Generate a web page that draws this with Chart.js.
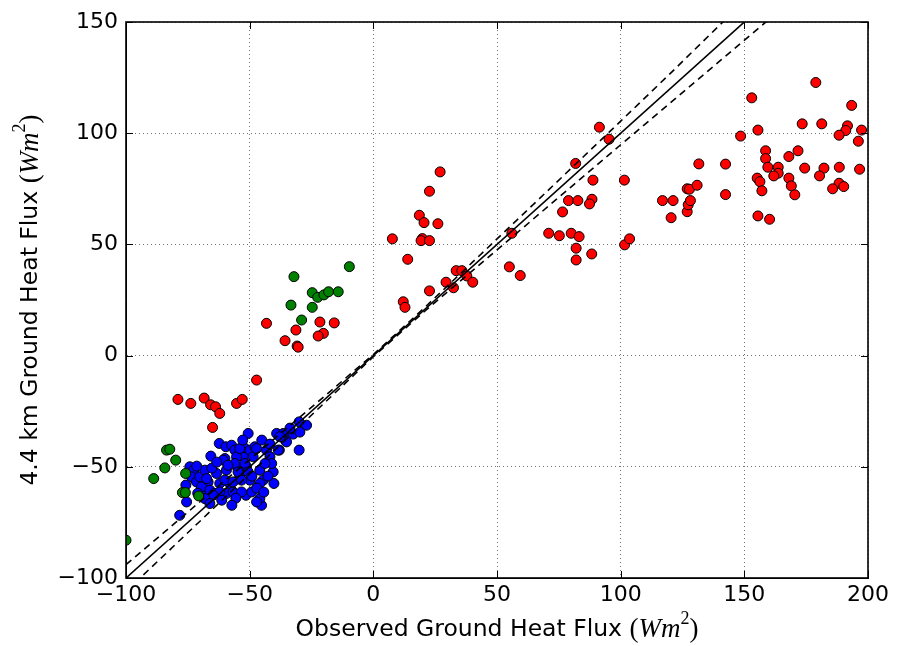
<!DOCTYPE html>
<html>
<head>
<meta charset="utf-8">
<script src="https://cdn.jsdelivr.net/npm/chart.js@4.4.1/dist/chart.umd.min.js"></script>
<style>
  html, body { margin: 0; background: #fff; }
</style>
</head>
<body>
<canvas id="chart" width="905" height="646"></canvas>
<script>
// observed (x) vs 4.4 km (y) ground heat flux
const redX = [-79, -73.8, -68.4, -65.8, -63.8, -62.1, -65, -55.3, -53, -47.2,
  -43.2, -31.3, -21.6, -15.8, -20.2, -22.3, -35.7, -30.8, -30.4,
  27, 22.7, 18.6, 20.5, 26.1, 7.7, 19.8, 19.3, 22.7, 13.9, 12.1, 12.8, 22.7, 29.4, 33.5, 35.8, 37.8, 32.4, 40.2, 56, 55, 59.4,
  91.4, 95.3, 81.8, 88.8, 101.5, 78.9, 82.7, 88.4, 87.4, 76.5, 70.9, 75.2, 80, 83.2, 82, 82, 88.3, 101.6, 103.6,
  116.9, 121.2, 120.4, 126.9, 127.3, 128.2, 126.9, 127.8, 130.9, 131.6,
  178.9, 153, 193.4, 173.4, 181.3, 191.7, 191, 197.4, 188.3, 196.1, 148.5, 155.5, 158.6, 158.6, 171.7, 168,
  159.5, 163.7, 163.7, 161.9, 174.4, 182.2, 180.4, 188.4, 196.6, 155.2, 156.3, 168, 169, 170.4, 157.1,
  188.3, 190.2, 185.7, 142.4, 142.4, 155.5, 160.2];
const redY = [-19.7, -21.5, -19.1, -22.1, -23, -26, -32.3, -21.5, -19.7, -11,
  14.5, 11.5, 15.1, 14.7, 10, 8.8, 6.7, 4.3, 3.8,
  82.6, 73.9, 63.1, 59.8, 59.3, 52.5, 52.6, 51.7, 51.7, 43.3, 24.2, 21.7, 29.1, 33, 38.2, 38.2, 35.8, 30.5, 33, 55, 39.9, 36,
  102.7, 97.3, 86.4, 78.9, 78.9, 69.7, 69.7, 70.3, 68.2, 64.6, 55, 53.9, 55, 53.5, 48.3, 43, 45.7, 49.8, 52.5,
  69.7, 69.7, 62, 64.7, 67.8, 69.7, 75, 74.8, 76.6, 86.2,
  122.8, 115.9, 112.5, 104.2, 104.2, 103.3, 101.2, 101.4, 99.1, 96.4, 98.7, 101.4, 92.1, 88.6, 92.1, 89.5,
  84.7, 84.7, 82, 80.8, 84.3, 84.3, 80.8, 84.7, 83.8, 79.8, 78.2, 79.8, 76.3, 72.3, 74.1,
  77.5, 76, 75, 86.1, 72.4, 62.8, 61.3];

const greenX = [-100, -83.6, -82.3, -79.9, -84.3, -88.8, -75.9, -77.2, -76, -70.6,
  -32.1, -9.7, -24.7, -22.5, -20, -18.1, -14.2, -33.3, -24.7, -29];
const greenY = [-83, -42.5, -42.1, -47, -50.5, -55.3, -53, -61.6, -61.6, -63.1,
  35.5, 40, 28.3, 26.2, 27.3, 28.7, 28.7, 22.7, 21.7, 16];

const blueX = [-78.3, -75.5, -68.8, -74.2, -72.6, -73.5, -71.5, -70.2, -68.1, -66.8,
  -69.5, -66.1, -63.4, -62.1, -64.1, -62.3, -60, -59.4, -59.6, -57.3,
  -56, -58, -59.4, -56.7, -55.1, -54, -52.6, -52.3, -50.6, -49.9,
  -51.3, -49.9, -51.5, -47.9, -45.9, -44.5, -45.2, -45.9, -43.2, -41.8,
  -40.5, -40.2, -41.1, -39.1, -36.4, -38, -35.5, -32.4, -30, -27,
  -30, -48.6, -55.3, -60.7, -56, -51.9, -43.8, -54.7, -50.6, -67.4,
  -60, -56.7, -53.3, -45.9, -62.1, -53.3, -49.2, -64.8, -68.1, -66.1,
  -47.2, -54, -47.2, -38.5, -35.1, -37.8, -71.4, -65.3, -58.8, -49.1,
  -42.6, -47.1, -55.6, -61.3, -52.8, -45.1, -33.7, -29.7, -41.8, -65.7,
  -63.3, -44.3, -57.2, -71, -75.8];
const blueY = [-71.8, -65.8, -61.6, -50, -51.5, -54.5, -56.8, -54.5, -51.5, -56.8,
  -59, -60.5, -53, -57.5, -62, -39.5, -46.3, -51.5, -41, -40.3,
  -42.5, -57.5, -62, -61.3, -50, -54.2, -45.5, -41.3, -35, -42.5,
  -50, -56, -62.8, -41, -51.5, -56, -67.3, -64.3, -42.5, -45.5,
  -52.3, -57.5, -48.5, -35, -35, -42.5, -38.3, -35.3, -29.8, -31.3,
  -42.5, -45.5, -45.5, -47, -48.5, -48.5, -48.5, -52.3, -52.3, -55.3,
  -56, -56.8, -56, -57.5, -61.3, -61.3, -61.3, -62.8, -64.3, -66.5,
  -65.8, -41.8, -41.8, -42.5, -38.8, -36.5, -49.7, -50.6, -49.3, -54.2,
  -54.2, -59.6, -64.1, -65, -38, -38, -32.6, -34.4, -39.8, -45.2,
  -47.9, -61.4, -67.3, -61.9, -58.2];

// 1:1 line and the dashed band around it
const oneToOneX = [-100, 200];
const oneToOneY = [-100, 200];
const bandX = [-100, -80, -60, -40, -20, 0, 20, 40, 60, 80, 100, 120, 140, 160];
const bandUpper = [-94.0, -75.1, -56.2, -37.4, -18.5, 0.5, 20.8, 41.9, 63.0, 84.2, 105.4, 126.8, 148.6, 170.0];
const bandLower = [-106.0, -84.9, -63.8, -42.6, -21.5, -0.5, 19.2, 38.1, 57.0, 75.9, 94.8, 113.6, 132.4, 151.2];

const xTicks = [-100, -50, 0, 50, 100, 150, 200];
const yTicks = [-100, -50, 0, 50, 100, 150];

const pts = (xs, ys) => xs.map((x, i) => ({ x: x, y: ys[i] }));
const minus = (v) => String(v).replace("-", "\u2212");
const SANS = "'DejaVu Sans', sans-serif";
const SERIF = "'Liberation Serif', 'DejaVu Serif', serif";

function markers(label, xs, ys, color, order) {
  return {
    label: label,
    data: pts(xs, ys),
    backgroundColor: color,
    borderColor: "#000",
    borderWidth: 1,
    pointRadius: 5,
    showLine: false,
    order: order,
    clip: 0,
  };
}

// text pieces: plain part then "(Wm²)" in math style
function drawTitle(ctx, plain, cx, cy, rotate) {
  const parts = [
    { t: plain, f: "23.5px " + SANS, dy: 0 },
    { t: "(", f: "27px " + SERIF, dy: 0 },
    { t: "Wm", f: "italic 27px " + SERIF, dy: 0 },
    { t: "2", f: "18px " + SERIF, dy: -11 },
    { t: ")", f: "27px " + SERIF, dy: 0 },
  ];
  ctx.save();
  let total = 0;
  parts.forEach((p) => { ctx.font = p.f; p.w = ctx.measureText(p.t).width; total += p.w; });
  ctx.translate(cx, cy);
  if (rotate) ctx.rotate(-Math.PI / 2);
  ctx.fillStyle = "#000";
  ctx.textBaseline = "middle";
  let x = -total / 2;
  parts.forEach((p) => { ctx.font = p.f; ctx.fillText(p.t, x, p.dy); x += p.w; });
  ctx.restore();
}

const framePlugin = {
  id: "frame",
  afterDraw(chart) {
    const { ctx, chartArea: a, scales } = chart;
    ctx.save();
    ctx.strokeStyle = "#000";
    ctx.lineWidth = 1;
    const tl = 7;
    ctx.beginPath();
    xTicks.forEach((v) => {
      const px = Math.round(scales.x.getPixelForValue(v)) + 0.5;
      ctx.moveTo(px, a.bottom); ctx.lineTo(px, a.bottom - tl);
      ctx.moveTo(px, a.top); ctx.lineTo(px, a.top + tl);
    });
    yTicks.forEach((v) => {
      const py = Math.round(scales.y.getPixelForValue(v)) + 0.5;
      ctx.moveTo(a.left, py); ctx.lineTo(a.left + tl, py);
      ctx.moveTo(a.right, py); ctx.lineTo(a.right - tl, py);
    });
    ctx.stroke();
    ctx.lineWidth = 1.6;
    ctx.strokeRect(a.left, a.top, a.right - a.left, a.bottom - a.top);
    ctx.restore();
    drawTitle(ctx, "Observed Ground Heat Flux ", (a.left + a.right) / 2, 630, false);
    drawTitle(ctx, "4.4 km Ground Heat Flux ", 31, (a.top + a.bottom) / 2, true);
  },
};

const axisGrid = { color: "rgba(0,0,0,0.55)", lineWidth: 1, drawTicks: false };
const axisBorder = { display: true, color: "#000", width: 1, dash: [1, 3] };

new Chart(document.getElementById("chart"), {
  type: "scatter",
  data: {
    datasets: [
      {
        data: pts(oneToOneX, oneToOneY),
        showLine: true, borderColor: "#000", borderWidth: 1.6, pointRadius: 0, order: 0, clip: 0,
      },
      {
        data: pts(bandX, bandUpper),
        showLine: true, borderColor: "#000", borderWidth: 1.6, borderDash: [7, 5], pointRadius: 0, order: 0, clip: 0,
      },
      {
        data: pts(bandX, bandLower),
        showLine: true, borderColor: "#000", borderWidth: 1.6, borderDash: [7, 5], pointRadius: 0, order: 0, clip: 0,
      },
      markers("red", redX, redY, "#ff0000", 1),
      markers("green", greenX, greenY, "#008000", 2),
      markers("blue", blueX, blueY, "#0000ff", 3),
    ],
  },
  options: {
    responsive: false,
    animation: false,
    devicePixelRatio: 1,
    events: [],
    layout: { padding: { top: 22, right: 37, left: 0, bottom: 0 } },
    plugins: { legend: { display: false }, tooltip: { enabled: false } },
    scales: {
      x: {
        type: "linear", min: -100, max: 200,
        afterBuildTicks: (s) => { s.ticks = xTicks.map((v) => ({ value: v })); },
        afterFit: (s) => { s.height = 68; },
        ticks: { font: { family: SANS, size: 22 }, color: "#000", padding: 4, callback: minus },
        grid: axisGrid, border: axisBorder,
      },
      y: {
        type: "linear", min: -100, max: 150,
        afterBuildTicks: (s) => { s.ticks = yTicks.map((v) => ({ value: v })); },
        afterFit: (s) => { s.width = 126; },
        ticks: { font: { family: SANS, size: 22 }, color: "#000", padding: 8, callback: minus },
        grid: axisGrid, border: axisBorder,
      },
    },
  },
  plugins: [framePlugin],
});
</script>
</body>
</html>
